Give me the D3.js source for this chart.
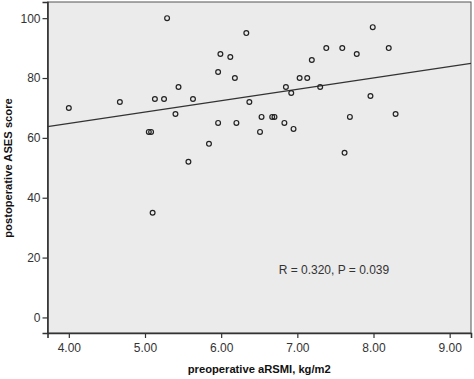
<!DOCTYPE html>
<html>
<head>
<meta charset="utf-8">
<script src="https://cdn.jsdelivr.net/npm/d3@7"></script>
<style>
  html, body { margin: 0; padding: 0; background: #fff; }
  svg { display: block; }
  text { font-family: Arial, "Liberation Sans", sans-serif; }
</style>
</head>
<body>
<svg id="chart" width="474" height="379"></svg>
<script>
// preoperative aRSMI (kg/m2)
const aRSMI = [4.00, 4.67, 5.29, 5.13, 5.25, 5.44, 5.63, 5.40, 5.05, 5.08,
               5.57, 5.84, 5.96, 6.20, 5.99, 6.12, 5.96, 6.18, 6.33, 6.37,
               5.10, 7.99, 7.38, 7.59, 7.78, 8.20, 7.19, 7.03, 7.13, 6.85,
               6.92, 7.30, 7.96, 6.53, 6.67, 6.70, 6.83, 6.95, 6.51, 7.69,
               8.29, 7.62];
// postoperative ASES score
const ases  = [70, 72, 100, 73, 73, 77, 73, 68, 62, 62,
               52, 58, 65, 65, 88, 87, 82, 80, 95, 72,
               35, 97, 90, 90, 88, 90, 86, 80, 80, 77,
               75, 77, 74, 67, 67, 67, 65, 63, 62, 67,
               68, 55];
const xTicks = [4, 5, 6, 7, 8, 9];
const yTicks = [0, 20, 40, 60, 80, 100];
const fit = { intercept: 49.6, slope: 3.80 };
const statText = "R = 0.320, P = 0.039";
const xTitle = "preoperative aRSMI, kg/m2";
const yTitle = "postoperative ASES score";

const svg = d3.select("#chart");
const L = 47.5, R = 471, T = 2, B = 333;
const x = d3.scaleLinear().domain([3.72, 9.28]).range([L, R]);
const y = d3.scaleLinear().domain([-5.2, 105.4]).range([B, T]);

// plot background + frame
svg.append("rect").attr("x", L).attr("y", T).attr("width", R - L).attr("height", B - T)
  .attr("fill", "#ebebeb").attr("stroke", "#555").attr("stroke-width", 1);

// axes
const xAxis = svg.append("g").attr("transform", `translate(0,${B})`)
  .call(d3.axisBottom(x).tickValues(xTicks).tickFormat(d3.format(".2f")).tickSize(5).tickPadding(3));
const yAxis = svg.append("g").attr("transform", `translate(${L},0)`)
  .call(d3.axisLeft(y).tickValues(yTicks).tickSize(5).tickPadding(2));
[xAxis, yAxis].forEach(g => {
  g.select(".domain").attr("stroke", "#333").attr("stroke-width", 1.6);
  g.selectAll(".tick line").attr("stroke", "#333").attr("stroke-width", 1.2);
  g.selectAll(".tick text").attr("fill", "#333").style("font-size", "12px")
    .style("font-family", "Arial, 'Liberation Sans', sans-serif");
});
xAxis.selectAll(".tick text").attr("dy", "0.9em");

// regression line
const xd = x.domain();
svg.append("line")
  .attr("x1", x(xd[0])).attr("y1", y(fit.intercept + fit.slope * xd[0]))
  .attr("x2", x(xd[1])).attr("y2", y(fit.intercept + fit.slope * xd[1]))
  .attr("stroke", "#333").attr("stroke-width", 1.3);

// points
svg.append("g").selectAll("circle").data(aRSMI.map((v, i) => [v, ases[i]]))
  .join("circle")
  .attr("cx", d => x(d[0])).attr("cy", d => y(d[1])).attr("r", 2.4)
  .attr("fill", "none").attr("stroke", "#222").attr("stroke-width", 1.2);

// stat text
svg.append("text").attr("x", x(7.48)).attr("y", y(14.6))
  .attr("text-anchor", "middle").attr("fill", "#333").style("font-size", "12px")
  .text(statText);

// axis titles
svg.append("text").attr("x", (L + R) / 2).attr("y", 373)
  .attr("text-anchor", "middle").attr("fill", "#111")
  .style("font-size", "11.2px").style("font-weight", "bold").text(xTitle);
svg.append("text").attr("transform", `translate(11.5,${168}) rotate(-90)`)
  .attr("text-anchor", "middle").attr("fill", "#111")
  .style("font-size", "11.2px").style("font-weight", "bold").text(yTitle);
</script>
</body>
</html>
